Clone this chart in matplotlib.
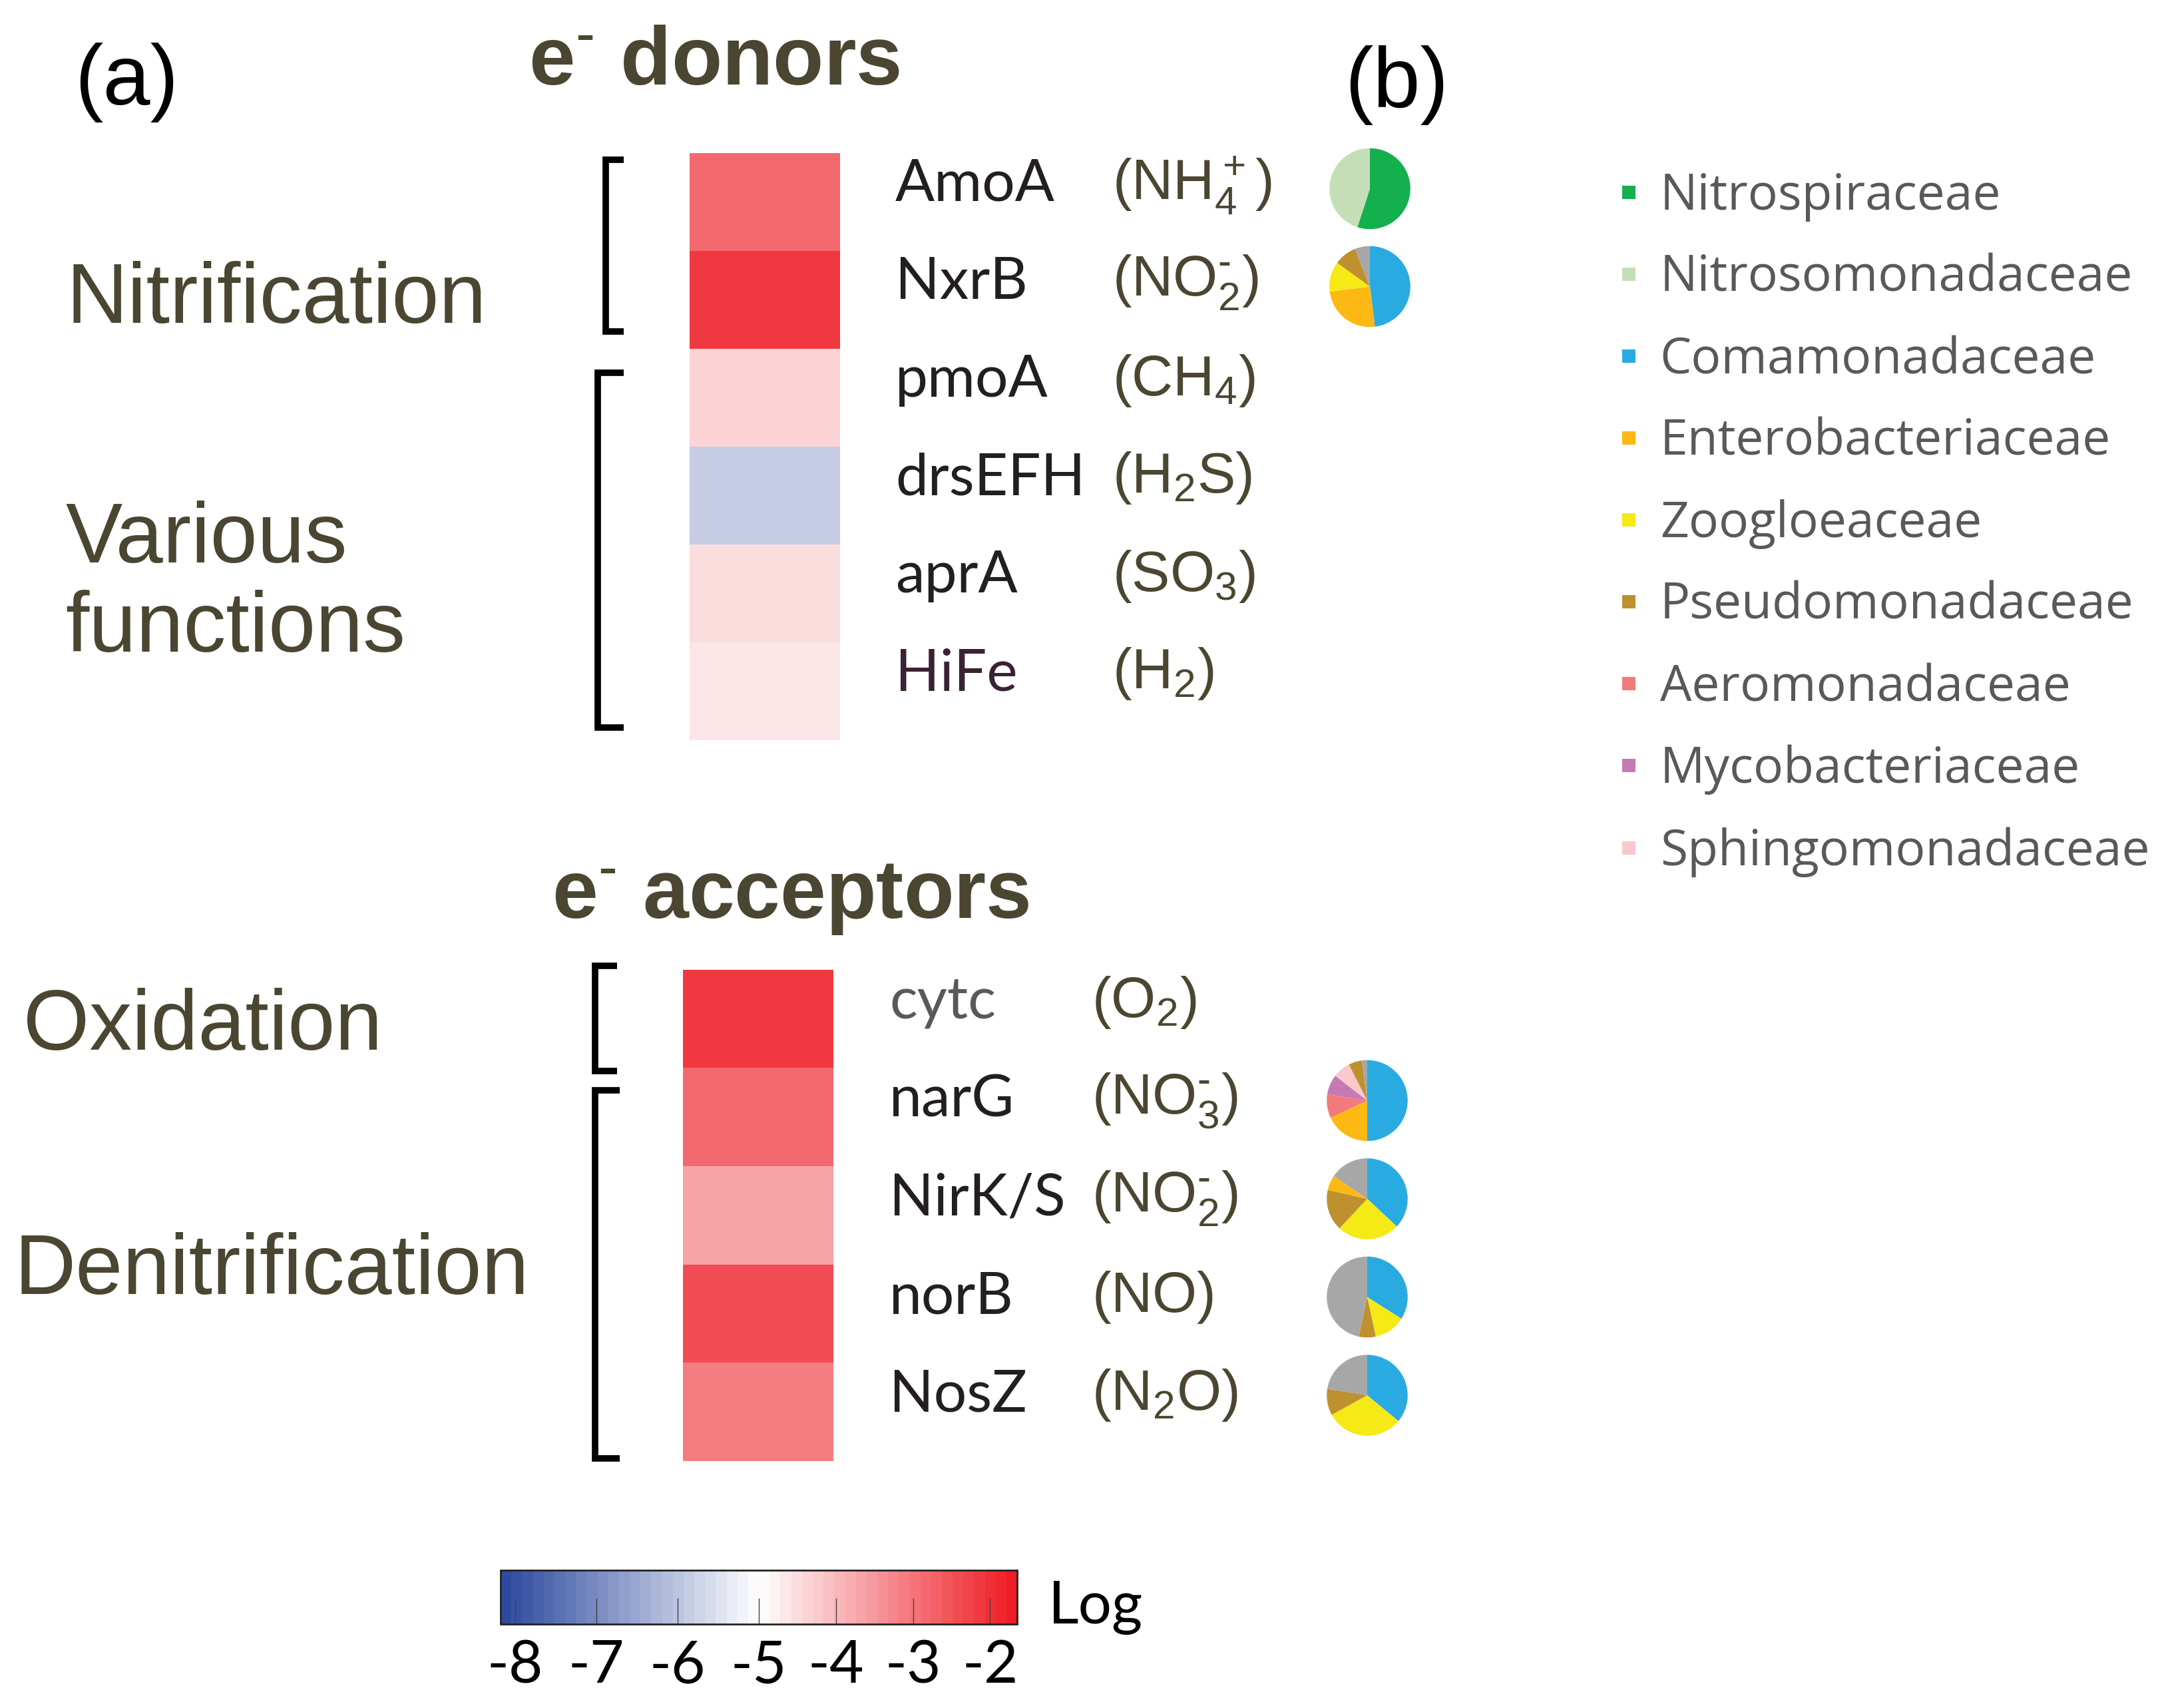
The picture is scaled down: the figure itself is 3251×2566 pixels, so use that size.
import numpy as np
import matplotlib
matplotlib.use('Agg')
import matplotlib.pyplot as plt
from matplotlib.colors import LinearSegmentedColormap, TwoSlopeNorm
from matplotlib.cm import ScalarMappable
from matplotlib.lines import Line2D

plt.rcParams['font.family'] = ['Lato', 'DejaVu Sans']
plt.rcParams['axes.unicode_minus'] = False
plt.rcParams['mathtext.fontset'] = 'custom'
plt.rcParams['mathtext.rm'] = 'Liberation Sans'
plt.rcParams['mathtext.bf'] = 'Liberation Sans:bold'

# ---- data ----
donor_genes = ['AmoA', 'NxrB', 'pmoA', 'drsEFH', 'aprA', 'HiFe']
donor_subs = [r'$\mathregular{(NH_4^+)}$', r'$\mathregular{(NO_2^{\text{-}})}$', r'$\mathregular{(CH_4)}$',
              r'$\mathregular{(H_2S)}$', r'$\mathregular{(SO_3)}$', r'$\mathregular{(H_2)}$']
donor_log = [-2.77, -2.09, -4.33, -5.84, -4.50, -4.72]

acceptor_genes = ['cytc', 'narG', 'NirK/S', 'norB', 'NosZ']
acceptor_subs = [r'$\mathregular{(O_2)}$', r'$\mathregular{(NO_3^{\text{-}})}$',
                 r'$\mathregular{(NO_2^{\text{-}})}$', r'$\mathregular{(NO)}$', r'$\mathregular{(N_2O)}$']
acceptor_log = [-2.09, -2.89, -3.66, -2.42, -3.17]

families = ['Nitrospiraceae', 'Nitrosomonadaceae', 'Comamonadaceae', 'Enterobacteriaceae',
            'Zoogloeaceae', 'Pseudomonadaceae', 'Aeromonadaceae', 'Mycobacteriaceae',
            'Sphingomonadaceae']
family_colors = ['#14b04d', '#c4dfb7', '#29abe2', '#fdb913', '#f5e916', '#be912e',
                 '#f27a7d', '#c679b4', '#f9c8cc']
other_color = '#a7a7a7'

# pie shares (%), clockwise from 12 o'clock
amoA_fam = ['Nitrospiraceae', 'Nitrosomonadaceae']
amoA_pct = [55, 45]
nxrB_fam = ['Comamonadaceae', 'Enterobacteriaceae', 'Zoogloeaceae', 'Pseudomonadaceae', 'Other']
nxrB_pct = [48, 25, 12, 9, 6]
narG_fam = ['Comamonadaceae', 'Enterobacteriaceae', 'Aeromonadaceae', 'Mycobacteriaceae',
            'Sphingomonadaceae', 'Pseudomonadaceae', 'Other']
narG_pct = [50, 18, 9.5, 8, 7, 5.4, 2.1]
nirK_fam = ['Comamonadaceae', 'Zoogloeaceae', 'Pseudomonadaceae', 'Enterobacteriaceae', 'Other']
nirK_pct = [37, 25, 16.5, 6, 15.5]
norB_fam = ['Comamonadaceae', 'Zoogloeaceae', 'Pseudomonadaceae', 'Other']
norB_pct = [34, 12.6, 6.8, 46.6]
nosZ_fam = ['Comamonadaceae', 'Zoogloeaceae', 'Pseudomonadaceae', 'Other']
nosZ_pct = [36, 31, 10.6, 22.4]

cbar_ticks = [-8, -7, -6, -5, -4, -3, -2]

# ---- figure, pixel layout ----
W, H = 3251, 2566
fig = plt.figure(figsize=(W / 100, H / 100), dpi=100)
canvas = fig.add_axes([0, 0, 1, 1])
canvas.set_xlim(0, W)
canvas.set_ylim(H, 0)
canvas.axis('off')

def px_axes(x0, y0, x1, y1):
    return fig.add_axes([x0 / W, 1 - y1 / H, (x1 - x0) / W, (y1 - y0) / H])

cmap = LinearSegmentedColormap.from_list('log', ['#2e4a9e', '#ffffff', '#ee1c25'], N=48)
norm = TwoSlopeNorm(vcenter=-5, vmin=-8.18, vmax=-1.65)

olive = '#4b4631'
gene_col = '#231f20'

# donors heatmap
d_top, d_bot = 230, 1112
ax_d = px_axes(1036, d_top, 1262, d_bot)
ax_d.imshow(np.array(donor_log).reshape(-1, 1), cmap=cmap, norm=norm, aspect='auto',
            interpolation='nearest')
ax_d.axis('off')

# acceptors heatmap
a_top, a_bot = 1457, 2195
ax_a = px_axes(1026, a_top, 1252, a_bot)
ax_a.imshow(np.array(acceptor_log).reshape(-1, 1), cmap=cmap, norm=norm, aspect='auto',
            interpolation='nearest')
ax_a.axis('off')

d_row = (d_bot - d_top) / len(donor_genes)
a_row = (a_bot - a_top) / len(acceptor_genes)
donor_y = [d_top + (i + 0.5) * d_row - 26 for i in range(len(donor_genes))]
acceptor_y = [a_top + (i + 0.5) * a_row - 25 for i in range(len(acceptor_genes))]

for i, (g, s) in enumerate(zip(donor_genes, donor_subs)):
    c = '#3b2136' if g == 'HiFe' else gene_col
    canvas.text(1345, donor_y[i], g, fontsize=63, color=c, va='center', ha='left')
    canvas.text(1671, donor_y[i], s, fontsize=62, color=olive, va='center', ha='left',
                fontfamily='Liberation Sans')
for i, (g, s) in enumerate(zip(acceptor_genes, acceptor_subs)):
    c = '#58595b' if g == 'cytc' else gene_col
    canvas.text(1336, acceptor_y[i], g, fontsize=63, color=c, va='center', ha='left')
    canvas.text(1640, acceptor_y[i], s, fontsize=62, color=olive, va='center', ha='left',
                fontfamily='Liberation Sans')

# titles and group labels
canvas.text(794, 95, r'$\mathbf{e^{\text{-}}}$ donors', fontsize=90, fontweight='bold', color=olive,
            va='center', ha='left', fontfamily='Liberation Sans')
canvas.text(829, 1349, r'$\mathbf{e^{\text{-}}}$ acceptors', fontsize=89, fontweight='bold', color=olive,
            va='center', ha='left', fontfamily='Liberation Sans')
canvas.text(112, 124, '(a)', fontsize=92, color='black', va='center', ha='left',
            fontfamily='Liberation Sans')
canvas.text(2020, 128, '(b)', fontsize=92, color='black', va='center', ha='left',
            fontfamily='Liberation Sans')
arial = dict(fontsize=92, color=olive, va='center', ha='left', fontfamily='Liberation Sans')
canvas.text(100, 452, 'Nitrification', **arial)
canvas.text(98, 879, 'Various\nfunctions', linespacing=1.15, **arial)
canvas.text(35, 1544, 'Oxidation', **arial)
canvas.text(21, 1911, 'Denitrification', **arial)

# brackets
for x, xe, y0, y1 in [(910, 937, 240, 498), (898, 937, 560, 1093),
                      (894, 927, 1451, 1609), (894, 931, 1638, 2191)]:
    canvas.plot([xe, x, x, xe], [y0, y0, y1, y1], color='black', lw=7,
                solid_joinstyle='miter', solid_capstyle='butt')

# pies
fam_color = dict(zip(families, family_colors))
fam_color['Other'] = other_color

def draw_pie(cx, cy, fams, pct, r=62):
    ax = px_axes(cx - r, cy - r, cx + r, cy + r)
    ax.pie(pct, colors=[fam_color[f] for f in fams], startangle=90, counterclock=False,
           radius=1, wedgeprops=dict(linewidth=0))
    ax.set_xlim(-1.02, 1.02)
    ax.set_ylim(-1.02, 1.02)

draw_pie(2058, donor_y[0] + 6, amoA_fam, amoA_pct)
draw_pie(2058, donor_y[1] + 6, nxrB_fam, nxrB_pct)
draw_pie(2054, acceptor_y[1], narG_fam, narG_pct)
draw_pie(2054, acceptor_y[2], nirK_fam, nirK_pct)
draw_pie(2054, acceptor_y[3], norB_fam, norB_pct)
draw_pie(2054, acceptor_y[4], nosZ_fam, nosZ_pct)

# legend
handles = [Line2D([], [], marker='s', linestyle='none', markersize=14,
                  markerfacecolor=c, markeredgewidth=0) for c in family_colors]
fig.legend(handles, families, loc='upper left', bbox_to_anchor=(2424 / W, 1 - 258 / H),
           frameon=False, labelspacing=0.64, handlelength=0.6,
           handletextpad=0.33, borderaxespad=0, borderpad=0, labelcolor='#595959',
           prop={'family': 'Open Sans', 'size': 54})

# colorbar
cax = px_axes(752, 2359, 1528, 2440)
cb = fig.colorbar(ScalarMappable(norm=norm, cmap=cmap), cax=cax, orientation='horizontal',
                  ticks=cbar_ticks)
cb.outline.set_linewidth(2)
cb.outline.set_edgecolor('#222222')
cax.tick_params(axis='x', direction='in', length=28, width=1, color='#444444',
                labelsize=64, pad=16)
canvas.text(1575, 2415, 'Log', fontsize=64, color='black', va='center', ha='left')

fig.savefig('out.png', dpi=100)
